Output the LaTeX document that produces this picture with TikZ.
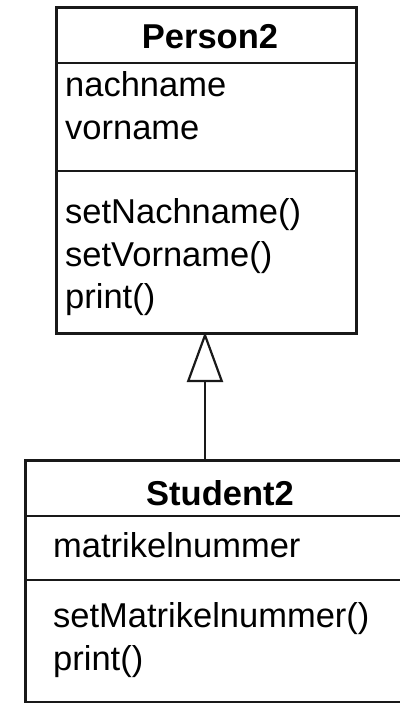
\documentclass[tikz,border=0pt]{standalone}
\usepackage{fontspec}
\setmainfont{Liberation Sans}
\usetikzlibrary{arrows.meta}
\begin{document}
\begin{tikzpicture}[x=1pt,y=-1pt,
  classbox/.style={draw=black!90, line width=3pt, fill=white, inner sep=0pt, anchor=north west},
  divider/.style={draw=black!90, line width=2.6pt},
  member/.style={anchor=base west, inner sep=0pt, font=\fontsize{34.5}{40}\selectfont},
  title/.style={anchor=base, inner sep=0pt, font=\fontsize{34.5}{40}\selectfont\bfseries},
  inherit/.style={draw=black!90, line width=2.2pt, -{Triangle[open, length=50pt, width=36pt]}}]
\useasboundingbox (0,0) rectangle (399,703);

% superclass
\node[classbox, minimum width=300pt, minimum height=326pt] (person) at (55,6) {};
\draw[divider] (55,63) -- (355,63);
\draw[divider] (55,171) -- (355,171);
\node[title] (ptitle) at (210,49) {Person2};
\node[member] (pa1) at (65,97) {nachname};
\node[member] (pa2) at (65,140) {vorname};
\node[member] (pm1) at (65,223) {setNachname()};
\node[member] (pm2) at (65,266) {setVorname()};
\node[member] (pm3) at (65,308) {print()};

% subclass
\node[classbox, minimum width=392pt, minimum height=242pt] (student) at (24,459) {};
\draw[divider] (24,516) -- (416,516);
\draw[divider] (24,580) -- (416,580);
\node[title] (stitle) at (220,505) {Student2};
\node[member] (sa1) at (53,557) {matrikelnummer};
\node[member] (sm1) at (53,627) {setMatrikelnummer()};
\node[member] (sm2) at (53,670) {print()};

% generalisation
\draw[inherit] (student.north -| 205,0) -- ([yshift=3pt]person.south -| 205,0);
\end{tikzpicture}
\end{document}
